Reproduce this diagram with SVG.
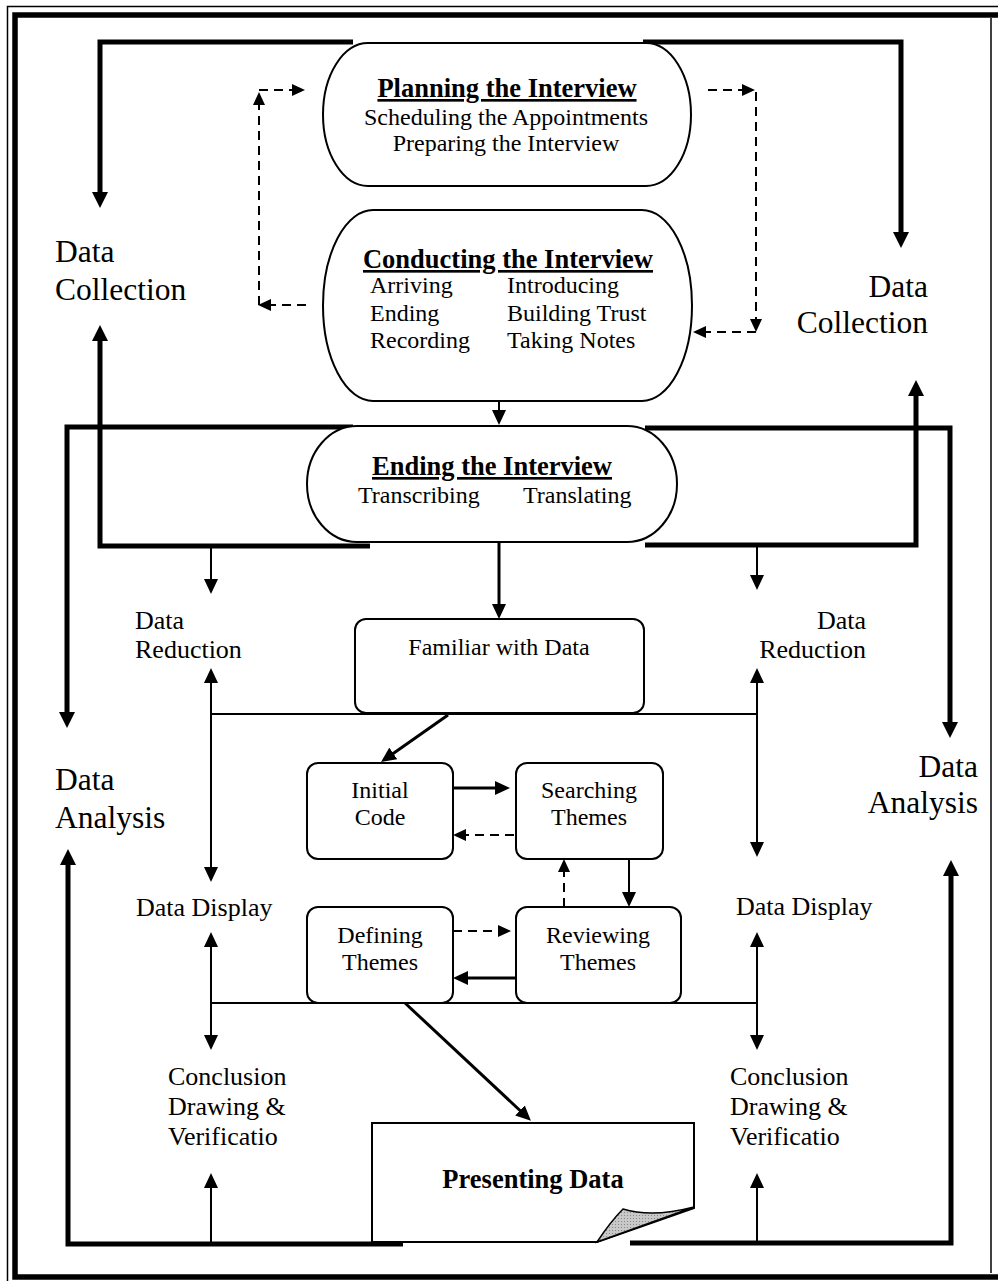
<svg xmlns="http://www.w3.org/2000/svg" width="998" height="1281" viewBox="0 0 998 1281">
  <style>
    text { font-family: "Liberation Serif", "Times New Roman", serif; fill: #000; }
    .big { font-size: 31.5px; }
    .mid { font-size: 26px; }
    .box { font-size: 24px; }
    .head { font-size: 26.5px; font-weight: bold; text-decoration: underline; }
    .bold { font-size: 26.5px; font-weight: bold; }
    .mc { text-anchor: middle; }
    .end { text-anchor: end; }
    .node { fill: #fff; stroke: #000; stroke-width: 2; }
    .frame { fill: none; stroke: #000; }
    .thick { fill: none; stroke: #000; stroke-width: 5; stroke-linejoin: miter; marker-end: url(#ah-big); }
    .thin { fill: none; stroke: #000; stroke-width: 2; }
    .mid-line { fill: none; stroke: #000; stroke-width: 3; }
    .dash { fill: none; stroke: #000; stroke-width: 2; stroke-dasharray: 9 6; marker-end: url(#ah-sm); }
    .one { marker-end: url(#ah); }
    .two { marker-start: url(#ah); marker-end: url(#ah); }
  </style>
  <defs>
    <marker id="ah-big" viewBox="0 0 16 16" refX="10" refY="8" markerWidth="16" markerHeight="16" markerUnits="userSpaceOnUse" orient="auto-start-reverse">
      <path d="M0,0 L16,8 L0,16 z" fill="#000"/>
    </marker>
    <marker id="ah" viewBox="0 0 15 14" refX="11" refY="7" markerWidth="15" markerHeight="14" markerUnits="userSpaceOnUse" orient="auto-start-reverse">
      <path d="M0,0 L15,7 L0,14 z" fill="#000"/>
    </marker>
    <marker id="ah-sm" viewBox="0 0 13 12" refX="9" refY="6" markerWidth="13" markerHeight="12" markerUnits="userSpaceOnUse" orient="auto-start-reverse">
      <path d="M0,0 L13,6 L0,12 z" fill="#000"/>
    </marker>
    <pattern id="dots" width="3" height="3" patternUnits="userSpaceOnUse">
      <rect width="3" height="3" fill="#c8c8c8"/>
      <rect width="1" height="1" fill="#888"/>
    </pattern>
  </defs>

  <!-- page frame -->
  <g id="frame">
    <path class="frame" d="M7.5,1281 V6.5 H998" stroke-width="1.5"/>
    <path class="frame" d="M998,15 H15 V1277 H998" stroke-width="5.5"/>
    <path class="frame" d="M991,18 V1273" stroke-width="1.5"/>
  </g>

  <!-- connectors -->
  <g id="connectors">
    <!-- heavy cycle brackets -->
    <path class="thick" d="M353,42 H100 V202"/>
    <path class="thick" d="M643,42 H901 V242"/>
    <path class="thick" d="M370,546 H100 V331"/>
    <path class="thick" d="M645,545 H916 V386"/>
    <path class="thick" d="M353,427 H67 V722"/>
    <path class="thick" d="M645,428 H950 V732"/>
    <path class="thick" d="M403,1244 H68 V855"/>
    <path class="thick" d="M630,1243 H951 V866"/>

    <!-- left analysis column -->
    <path class="thin one" d="M211,546 V590"/>
    <path class="thin two" d="M211,672 V878"/>
    <path class="thin" d="M211,714 H756"/>
    <path class="thin two" d="M211,936 V1046"/>
    <path class="thin" d="M211,1003 H757"/>
    <path class="thin one" d="M211,1244 V1177"/>

    <!-- right analysis column -->
    <path class="thin one" d="M757,545 V586"/>
    <path class="thin two" d="M757,672 V853"/>
    <path class="thin two" d="M757,936 V1046"/>
    <path class="thin one" d="M757,1243 V1177"/>

    <!-- interview sequence -->
    <path class="thin one" d="M499,401 V421"/>
    <path class="mid-line one" d="M499,543 V615"/>

    <!-- thematic analysis flow -->
    <path class="mid-line one" d="M448,715 L384.3,759.7"/>
    <path class="mid-line one" d="M453,788 H506"/>
    <path class="dash" d="M514,835 H457"/>
    <path class="thin one" d="M629,859 V903"/>
    <path class="dash" d="M564,907 V863"/>
    <path class="dash" d="M453,931 H507"/>
    <path class="mid-line one" d="M516,978 H457"/>
    <path class="mid-line one" d="M405,1003 L528,1118"/>

    <!-- feedback loops around planning / conducting -->
    <path class="dash" d="M306,305 H262"/>
    <path class="dash" d="M259,305 V96"/>
    <path class="dash" d="M259,90 H301"/>
    <path class="dash" d="M708,90 H751"/>
    <path class="dash" d="M756,92 V328"/>
    <path class="dash" d="M756,332 H697"/>
  </g>

  <!-- interview stages -->
  <g id="planning">
    <rect class="node" x="323" y="43" width="368" height="143" rx="45" ry="71.5"/>
    <text class="head mc" x="507" y="97">Planning the Interview</text>
    <text class="box mc" x="506" y="125">Scheduling the Appointments</text>
    <text class="box mc" x="506" y="151">Preparing the Interview</text>
  </g>

  <g id="conducting">
    <rect class="node" x="323" y="210" width="369" height="191" rx="50" ry="95.5"/>
    <text class="head mc" x="508" y="268">Conducting the Interview</text>
    <text class="box" x="370" y="293">Arriving</text>
    <text class="box" x="370" y="321">Ending</text>
    <text class="box" x="370" y="348">Recording</text>
    <text class="box" x="507" y="293">Introducing</text>
    <text class="box" x="507" y="321">Building Trust</text>
    <text class="box" x="507" y="348">Taking Notes</text>
  </g>

  <g id="ending">
    <rect class="node" x="307" y="426" width="370" height="116" rx="50" ry="58"/>
    <text class="head mc" x="492" y="475">Ending the Interview</text>
    <text class="box" x="358" y="503">Transcribing</text>
    <text class="box" x="523" y="503">Translating</text>
  </g>

  <!-- thematic analysis steps -->
  <g id="familiar">
    <rect class="node" x="355" y="619" width="289" height="94" rx="11"/>
    <text class="box mc" x="499" y="655">Familiar with Data</text>
  </g>

  <g id="initial-code">
    <rect class="node" x="307" y="763" width="146" height="96" rx="11"/>
    <text class="box mc" x="380" y="798">Initial</text>
    <text class="box mc" x="380" y="825">Code</text>
  </g>

  <g id="searching">
    <rect class="node" x="516" y="763" width="147" height="96" rx="11"/>
    <text class="box mc" x="589" y="798">Searching</text>
    <text class="box mc" x="589" y="825">Themes</text>
  </g>

  <g id="defining">
    <rect class="node" x="307" y="907" width="146" height="96" rx="11"/>
    <text class="box mc" x="380" y="943">Defining</text>
    <text class="box mc" x="380" y="970">Themes</text>
  </g>

  <g id="reviewing">
    <rect class="node" x="516" y="907" width="165" height="96" rx="11"/>
    <text class="box mc" x="598" y="943">Reviewing</text>
    <text class="box mc" x="598" y="970">Themes</text>
  </g>

  <g id="presenting">
    <path class="node" d="M372,1242 V1123 H694 V1208 L597,1242 Z"/>
    <path d="M597,1242 Q611,1221 623,1209 Q652,1218 694,1207 Z" fill="url(#dots)" stroke="#000" stroke-width="1.5"/>
    <text class="bold mc" x="533" y="1188">Presenting Data</text>
  </g>

  <!-- phase labels -->
  <g id="data-collection-left">
    <text class="big" x="55" y="262">Data</text>
    <text class="big" x="55" y="300">Collection</text>
  </g>
  <g id="data-collection-right">
    <text class="big end" x="928" y="297">Data</text>
    <text class="big end" x="928" y="333">Collection</text>
  </g>
  <g id="data-analysis-left">
    <text class="big" x="55" y="790">Data</text>
    <text class="big" x="55" y="828">Analysis</text>
  </g>
  <g id="data-analysis-right">
    <text class="big end" x="978" y="777">Data</text>
    <text class="big end" x="978" y="813">Analysis</text>
  </g>
  <g id="data-reduction-left">
    <text class="mid" x="135" y="629">Data</text>
    <text class="mid" x="135" y="658">Reduction</text>
  </g>
  <g id="data-reduction-right">
    <text class="mid end" x="866" y="629">Data</text>
    <text class="mid end" x="866" y="658">Reduction</text>
  </g>
  <g id="data-display-left">
    <text class="mid" x="136" y="916">Data Display</text>
  </g>
  <g id="data-display-right">
    <text class="mid" x="736" y="915">Data Display</text>
  </g>
  <g id="conclusion-left">
    <text class="mid" x="168" y="1085">Conclusion</text>
    <text class="mid" x="168" y="1115">Drawing &amp;</text>
    <text class="mid" x="168" y="1145">Verificatio</text>
  </g>
  <g id="conclusion-right">
    <text class="mid" x="730" y="1085">Conclusion</text>
    <text class="mid" x="730" y="1115">Drawing &amp;</text>
    <text class="mid" x="730" y="1145">Verificatio</text>
  </g>
</svg>
